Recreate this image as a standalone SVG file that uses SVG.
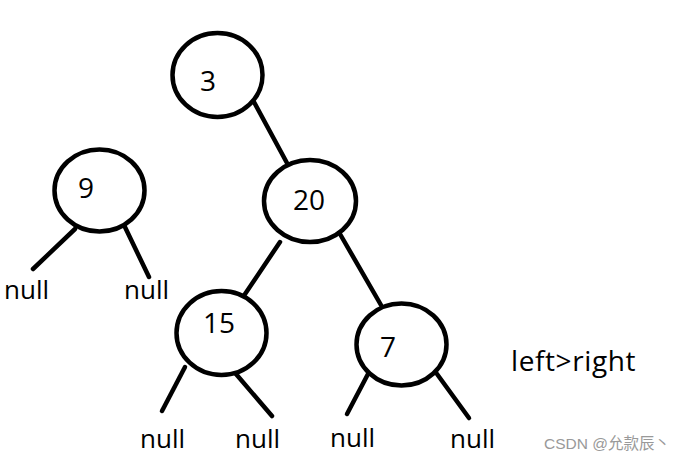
<svg xmlns="http://www.w3.org/2000/svg" width="689" height="461" viewBox="0 0 689 461">
<style>
.node ellipse{fill:#fff;stroke:#000;stroke-width:4.5}
.edge line{stroke:#000;stroke-width:4.5;stroke-linecap:round}
.num{font-family:"Open Sans","Noto Sans",sans-serif;font-size:28px;fill:#000;text-anchor:middle}
.nul{font-family:"Open Sans","Noto Sans",sans-serif;font-size:26px;fill:#000}
.lbl{font-family:"Open Sans","Noto Sans",sans-serif;font-size:28px;fill:#000;letter-spacing:0.6px}
.wm{font-family:"Liberation Sans","Noto Sans CJK SC",sans-serif;font-size:15.5px;fill:#999}
</style>
<rect width="689" height="461" fill="#fff"/>
<g id="connectors" class="edge">
<line x1="254" y1="102" x2="287" y2="163"/>
<line x1="75" y1="229" x2="33" y2="269"/>
<line x1="124" y1="225" x2="149" y2="277"/>
<line x1="280" y1="242" x2="241" y2="300"/>
<line x1="340" y1="234" x2="385" y2="312"/>
<line x1="185" y1="367" x2="162" y2="411"/>
<line x1="236" y1="374" x2="272" y2="416"/>
<line x1="368" y1="374" x2="347" y2="414"/>
<line x1="437" y1="374" x2="469" y2="418"/>
</g>
<g id="node-3" class="node"><ellipse cx="217.5" cy="75" rx="45" ry="42"/><text class="num" x="208" y="91">3</text></g>
<g id="node-9" class="node"><ellipse cx="99.5" cy="190.5" rx="45" ry="41"/><text class="num" x="86" y="198">9</text></g>
<g id="node-20" class="node"><ellipse cx="310" cy="201" rx="46" ry="41"/><text class="num" x="309" y="210">20</text></g>
<g id="node-15" class="node"><ellipse cx="221.5" cy="333" rx="45" ry="42"/><text class="num" x="219" y="333">15</text></g>
<g id="node-7" class="node"><ellipse cx="401.5" cy="344.5" rx="45" ry="41"/><text class="num" x="388" y="357">7</text></g>
<g id="labels">
<text class="nul" x="4" y="299">null</text>
<text class="nul" x="124" y="299">null</text>
<text class="nul" x="140" y="448">null</text>
<text class="nul" x="235" y="448">null</text>
<text class="nul" x="330" y="447">null</text>
<text class="nul" x="450" y="448">null</text>
<text class="lbl" x="511" y="371">left&gt;right</text>
<text class="wm" x="544" y="449">CSDN @允款辰丶</text>
</g>
</svg>
